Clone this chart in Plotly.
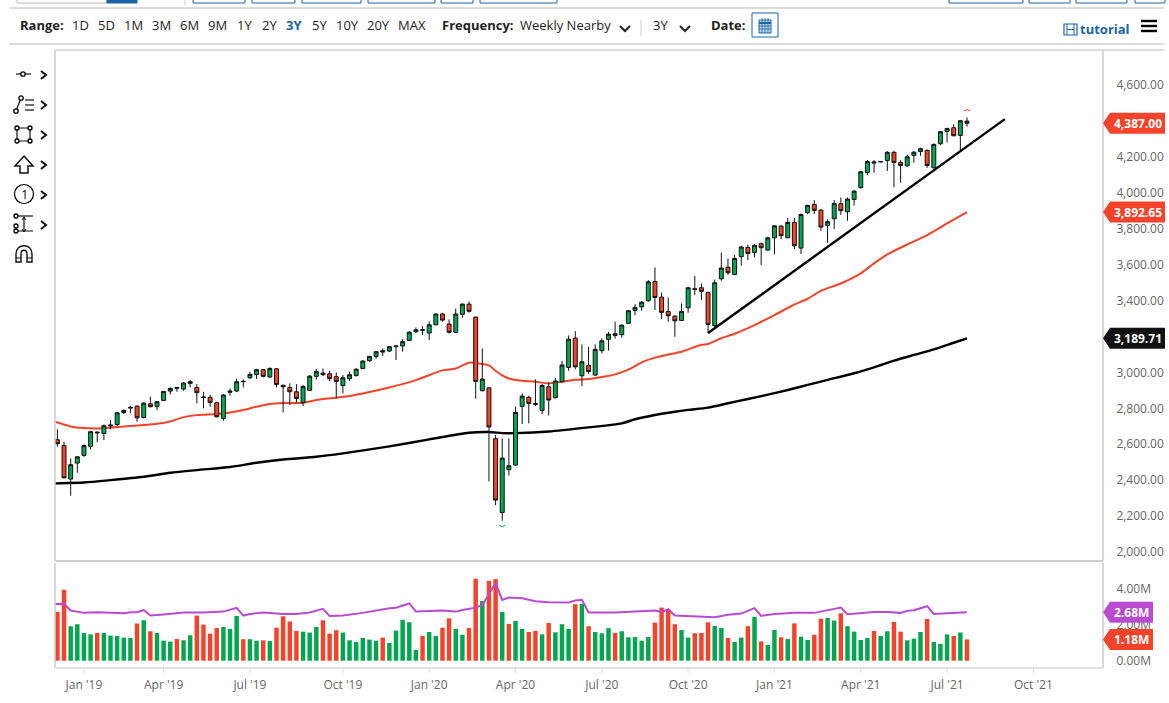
import pandas as pd
import plotly.graph_objects as go

W, H = 1169, 703
GREEN, RED, BLUE, PURPLE = "#00a650", "#f4432a", "#1a64a8", "#b94bd2"
GREY = "#666666"

# ---- weekly OHLC ----
opens = [2625,2593,2406,2495,2538,2588,2668,2660,2701,2710,2777,2801,2812,2749,2825,2811,2844,2896,2911,2907,
         2939,2916,2863,2861,2831,2744,2889,2896,2948,2970,2989,3015,2974,3020,2928,2916,2892,2831,2900,2978,
         2996,2992,2976,2927,2965,2983,3022,3065,3089,3121,3119,3143,3147,3178,3226,3234,3219,3265,3325,3269,
         3223,3323,3380,3308,2898,2914,2631,2220,2458,2484,2811,2861,2827,2788,2920,2859,2948,3028,3191,2981,
         3039,2985,3121,3184,3215,3210,3273,3345,3365,3399,3506,3419,3339,3313,3289,3360,3466,3471,3445,3260,
         3521,3586,3545,3644,3696,3668,3716,3681,3749,3814,3749,3835,3692,3889,3935,3904,3818,3855,3939,3894,
         3963,4028,4113,4165,4171,4180,4225,4169,4150,4208,4230,4236,4139,4273,4342,4362,4319,4399]
highs = [2683,2614,2521,2534,2599,2675,2671,2710,2734,2779,2794,2812,2816,2833,2864,2840,2896,2916,2920,2946,
         2957,2935,2892,2874,2837,2879,2911,2966,2961,3004,3020,3018,3028,3024,2933,2939,2935,2929,2985,3018,
         3022,3009,3000,2985,3004,3022,3067,3091,3119,3133,3148,3152,3184,3228,3250,3258,3284,3328,3332,3295,
         3356,3384,3395,3310,3133,2916,2651,2632,2632,2809,2883,2870,2961,2935,2942,2970,3063,3206,3230,3156,
         3143,3156,3189,3226,3282,3267,3347,3380,3397,3514,3584,3445,3417,3319,3384,3477,3538,3495,3449,3517,
         3666,3634,3653,3705,3711,3714,3723,3755,3820,3820,3859,3859,3885,3933,3959,3907,3852,3959,3974,3974,
         4015,4121,4182,4182,4177,4232,4234,4182,4213,4232,4251,4241,4275,4345,4362,4382,4405,4419]
lows = [2586,2410,2313,2441,2530,2571,2612,2623,2683,2701,2768,2773,2725,2744,2805,2790,2842,2877,2892,2898,
        2916,2827,2799,2809,2749,2731,2870,2890,2916,2963,2963,2972,2970,2916,2777,2818,2831,2812,2896,2961,
        2979,2950,2855,2883,2952,2976,3018,3059,3076,3091,3113,3069,3115,3174,3221,3208,3180,3262,3282,3217,
        3221,3304,3332,2853,2894,2393,2261,2174,2425,2480,2712,2716,2812,2768,2760,2855,2946,3009,3017,2924,
        2992,2981,3106,3121,3189,3193,3269,3319,3343,3393,3347,3298,3282,3198,3287,3332,3430,3402,3221,3250,
        3510,3542,3543,3594,3625,3640,3597,3677,3657,3742,3748,3686,3659,3881,3881,3787,3722,3798,3876,3844,
        3928,4024,4098,4111,4169,4121,4030,4056,4145,4167,4206,4139,4135,4265,4280,4316,4228,4368]
closes = [2603,2413,2486,2530,2593,2670,2664,2703,2707,2775,2788,2805,2747,2829,2809,2837,2894,2911,2915,2941,
          2948,2887,2861,2833,2753,2874,2896,2948,2950,2989,3015,2978,3022,2933,2920,2892,2855,2922,2979,3005,
          2987,2965,2950,2970,2987,3018,3063,3089,3115,3113,3143,3147,3171,3224,3237,3237,3265,3325,3291,3223,
          3325,3380,3340,2950,2963,2696,2289,2523,2480,2777,2868,2827,2822,2927,2846,2952,3041,3185,3031,3059,
          3005,3128,3176,3213,3206,3263,3343,3362,3391,3504,3417,3334,3315,3287,3339,3471,3462,3451,3267,3499,
          3581,3555,3634,3698,3662,3707,3694,3749,3816,3761,3835,3705,3879,3930,3902,3809,3839,3941,3900,3965,
          4009,4117,4174,4171,4174,4225,4169,4152,4200,4226,4245,4152,4269,4340,4358,4317,4401,4387]

# ---- weekly volume, millions, with the colour of each bar ----
volume = [2.70,3.93,1.91,2.02,1.54,1.46,1.54,1.54,1.39,1.37,1.28,1.26,2.06,2.24,1.63,1.54,1.11,1.06,1.20,1.13,
          1.41,2.50,2.00,1.50,1.81,1.87,1.76,2.48,1.19,1.19,1.11,1.13,1.09,1.83,2.46,2.17,1.65,1.61,1.56,1.87,
          2.24,1.50,1.69,1.56,1.13,1.04,1.26,1.17,1.11,1.28,0.98,1.67,2.26,2.13,0.59,1.37,1.59,1.37,1.83,2.35,
          1.76,1.44,1.81,4.54,3.31,4.43,4.52,2.70,2.04,2.20,1.76,1.59,1.65,1.46,2.09,1.57,2.02,1.76,3.13,3.15,
          1.91,1.59,1.52,1.80,1.54,1.63,1.30,1.31,1.11,1.31,2.11,2.94,2.85,2.02,1.70,1.28,1.52,1.54,2.13,1.93,
          1.81,1.26,1.04,1.28,1.91,2.43,1.07,0.87,1.70,1.30,1.20,2.07,1.33,1.15,1.44,2.33,2.37,2.22,2.63,1.91,
          1.61,1.15,1.26,1.65,1.37,1.63,2.15,1.61,1.13,1.22,1.59,2.31,1.04,0.93,1.46,1.37,1.56,1.18]
volume_side = ("RRGGGGRGGGGGRGRGGGRGGRRRRGGGRGGRGRRRRGGGRRRGGGGGGRGGGGGRGGRRGGRRGRRG"
               "RGGRRGRGGGRGRGGGRGGGGGRRRRGGRRRGGRGGRGRGGRGRGGRRGGRGGGGRGGRRGGGRGGGRGR")

# ---- sampled moving averages: (bar number, value) ----
ma50_at = [-1,0,1,2,4,6,8,10,13,15,17,19,21,24,26,28,30,32,34,37,39,42,44,46,50,54,58,60,62,64,65,66,67,68,70,72,74,76,
           78,80,82,84,86,87,88,90,92,94,97,98,100,102,105,108,111,113,115,118,121,123,125,128,131,134,137]
ma50 = [2731,2721,2710,2699,2690,2688,2692,2699,2707,2714,2727,2751,2762,2768,2777,2790,2809,2824,2829,2831,2846,2859,2868,
        2883,2916,2957,3011,3022,3054,3046,3039,3009,2983,2966,2953,2948,2939,2948,2959,2963,2974,2989,3015,3035,3056,
        3082,3099,3115,3154,3158,3190,3215,3263,3319,3378,3410,3454,3495,3551,3607,3657,3712,3764,3829,3892.65]
ma200_at = [-1,0,4,8,13,17,21,26,30,34,39,43,50,56,62,65,67,69,74,80,85,87,90,93,95,98,101,104,107,110,113,116,120,123,126,129,132,135,137]
ma200 = [2381,2382,2387,2400,2419,2441,2456,2473,2497,2515,2530,2549,2588,2627,2664,2668,2662,2662,2671,2694,2716,2739,2763,
         2781,2791,2804,2828,2852,2876,2902,2930,2958,2995,3028,3065,3097,3128,3165,3189.71]
vol_ma_at = [-1,0,1,2,4,6,10,11,12,13,14,16,19,22,25,27,28,29,31,34,36,38,40,41,43,46,50,51,53,54,56,58,60,61,63,64,66,67,68,
             70,72,74,77,78,79,80,84,88,90,91,92,93,96,99,101,103,105,106,108,111,114,118,119,123,125,127,128,129,131,132,134,137]
vol_ma = [3.13,3.13,3.15,2.78,2.65,2.69,2.63,2.69,2.69,2.81,2.50,2.56,2.67,2.67,2.72,2.93,2.50,2.59,2.67,2.59,2.59,2.67,2.87,
          2.48,2.50,2.65,2.91,2.93,3.17,2.72,2.74,2.78,2.72,2.81,2.94,3.09,4.30,3.37,3.50,3.46,3.30,3.24,3.22,3.33,3.37,
          2.67,2.67,2.74,2.78,2.70,2.85,2.50,2.46,2.41,2.54,2.61,2.91,2.48,2.59,2.65,2.65,2.94,2.57,2.70,2.70,2.65,2.76,
          2.80,3.02,2.59,2.63,2.68]

# ---- drawn trendline ----
trend_weeks = [98, 142.7]
trend_values = [3219, 4410]

# ---- tick labels ----
tick_weeks = [4,16,29,43,56,69,82,95,108,121,134,147]
tick_labels = ["Jan '19","Apr '19","Jul '19","Oct '19","Jan '20","Apr '20","Jul '20","Oct '20","Jan '21","Apr '21","Jul '21","Oct '21"]
price_ticks = [2000,2200,2400,2600,2800,3000,3400,3600,3800,4000,4200,4600]
vol_ticks = [0,2,4]
vol_tick_labels = ["0.00M","2.00M","4.00M"]

first = pd.Timestamp("2018-12-07")
def week(n):
    return first + pd.Timedelta(days=7 * n)
dates = [week(i) for i in range(len(closes))]
assert len(opens) == len(highs) == len(lows) == len(closes) == len(volume) == len(volume_side) == 138
assert len(ma50) == len(ma50_at) and len(ma200) == len(ma200_at) and len(vol_ma) == len(vol_ma_at)

PX_DAY = 6.64 / 7
x_range = [first - pd.Timedelta(days=2.4 / PX_DAY), first + pd.Timedelta(days=1045.7 / PX_DAY)]

fig = go.Figure()
fig.add_trace(go.Scatter(x=[week(i) for i in ma200_at], y=ma200, mode="lines", zorder=-1,
                         line=dict(color="#000000", width=2.4, shape="spline", smoothing=0.7), hoverinfo="skip"))
fig.add_trace(go.Scatter(x=[week(i) for i in ma50_at], y=ma50, mode="lines", zorder=-1,
                         line=dict(color=RED, width=2, shape="spline", smoothing=0.7), hoverinfo="skip"))
fig.add_trace(go.Candlestick(x=dates, open=opens, high=highs, low=lows, close=closes, whiskerwidth=0,
                             increasing=dict(line=dict(color="#111111", width=1), fillcolor=GREEN),
                             decreasing=dict(line=dict(color="#111111", width=1), fillcolor=RED),
                             hoverinfo="skip"))
fig.add_trace(go.Scatter(x=[week(w) for w in trend_weeks], y=trend_values, mode="lines",
                         line=dict(color="#000000", width=2.4), hoverinfo="skip"))
fig.add_trace(go.Bar(x=dates, y=volume, xaxis="x2", yaxis="y2", width=4.7 * 86400000,
                     marker=dict(color=[RED if s == "R" else GREEN for s in volume_side], line=dict(width=0)),
                     hoverinfo="skip"))
fig.add_trace(go.Scatter(x=[week(i) for i in vol_ma_at], y=vol_ma, xaxis="x2", yaxis="y2", mode="lines",
                         line=dict(color=PURPLE, width=2), hoverinfo="skip"))

def X(px): return px / W
def Y(px): return 1 - px / H

shapes, annotations = [], []
def line(x0, y0, x1, y1, color="#000000", width=1.5):
    shapes.append(dict(type="line", xref="paper", yref="paper", x0=X(x0), x1=X(x1), y0=Y(y0), y1=Y(y1),
                       line=dict(color=color, width=width), layer="above"))
def rect(x0, y0, x1, y1, color="#000000", width=1.5, fill="rgba(0,0,0,0)"):
    shapes.append(dict(type="rect", xref="paper", yref="paper", x0=X(x0), x1=X(x1), y0=Y(y0), y1=Y(y1),
                       line=dict(color=color, width=width), fillcolor=fill, layer="above"))
def circle(cx, cy, r, color="#000000", width=1.3, fill="#ffffff"):
    shapes.append(dict(type="circle", xref="paper", yref="paper", x0=X(cx - r), x1=X(cx + r), y0=Y(cy - r), y1=Y(cy + r),
                       line=dict(color=color, width=width), fillcolor=fill, layer="above"))
def poly(points, color="#000000", width=1.5, fill="rgba(0,0,0,0)", close=False):
    d = "M " + " L ".join(f"{X(a):.5f} {Y(b):.5f}" for a, b in points) + (" Z" if close else "")
    shapes.append(dict(type="path", xref="paper", yref="paper", path=d,
                       line=dict(color=color, width=width), fillcolor=fill, layer="above"))
def text(px, py, s, size=13, color="#222222", bold=False, anchor="left"):
    annotations.append(dict(xref="paper", yref="paper", x=X(px), y=Y(py), text=f"<b>{s}</b>" if bold else s,
                            showarrow=False, xanchor=anchor, yanchor="middle", xshift=0,
                            font=dict(family="Open Sans", size=size, color=color), borderpad=0, borderwidth=0))

# panel frames and axis ticks
line(55, 50, 55, 561, "#cccccc", 1.5)
line(1103, 50, 1103, 561, "#cccccc", 1.5)
line(55, 561, 1103, 561, "#cccccc", 2)
line(55, 563, 55, 668, "#cccccc", 1.5)
line(1103, 563, 1103, 668, "#cccccc", 1.5)
line(55, 668, 1103, 668, "#e0e0e0", 2)
for w in tick_weeks:
    shapes.append(dict(type="line", xref="x2", yref="paper", x0=week(w), x1=week(w), y0=Y(668), y1=Y(673),
                       line=dict(color="#dddddd", width=1), layer="above"))

# top clipped buttons and rules
rect(17, -8, 107, 3, "#bbbbbb", 1)
rect(107, -8, 137, 3, BLUE, 1, BLUE)
for a, b in [(193,245),(252,295),(302,361),(368,435),(441,473),(480,557),(949,1023),(1029,1070),(1076,1127),(1135,1165)]:
    shapes.append(dict(type="rect", xref="paper", yref="paper", x0=X(a), x1=X(b), y0=Y(-8), y1=Y(3),
                       line=dict(color=BLUE, width=1), layer="above"))
line(185, 0, 185, 5, "#cccccc", 1)
line(9, 8, 1164, 8, "#d0d0d0", 1.5)
line(9, 44, 1164, 44, "#d0d0d0", 1.5)
line(55, 50, 1164, 50, "#d0d0d0", 1.5)

# toolbar
text(20, 25, "Range:", bold=True)
for cx, s in zip([80,106,133,161,189,217,244,269,294,319,347,378,412],
                 ["1D","5D","1M","3M","6M","9M","1Y","2Y","3Y","5Y","10Y","20Y","MAX"]):
    text(cx, 25, f"<b>{s}</b>" if s == "3Y" else s, color=BLUE if s == "3Y" else "#222222", anchor="center")
text(442, 25, "Frequency:", bold=True)
text(520, 25, "Weekly Nearby")
poly([(620,26),(625,31),(630,26)], "#222222", 2)
line(641, 20, 641, 36, "#cccccc", 1)
text(653, 25, "3Y")
poly([(680,26),(685,31),(690,26)], "#222222", 2)
text(711, 25, "Date:", bold=True)
rect(752, 13, 778, 37, BLUE, 1)
rect(759, 20, 771, 33, BLUE, 1, "rgba(26,100,168,0.25)")
line(759, 23, 771, 23, BLUE, 2)
for gx in (762, 765, 768):
    line(gx, 18, gx, 33, BLUE, 0.8)
for gy in (26, 29):
    line(759, gy, 771, gy, BLUE, 0.8)
rect(1064, 24, 1077, 35, BLUE, 1.2)
line(1067, 24, 1067, 35, BLUE, 1)
line(1074, 24, 1074, 35, BLUE, 1)
line(1067, 29.5, 1074, 29.5, BLUE, 1)
text(1080, 29, "tutorial", size=13, color=BLUE, bold=True)
for gy in (21, 26, 31):
    line(1141, gy, 1157, gy, "#000000", 2.4)

# drawing tools
for cy in (75, 105, 135, 165, 195, 225):
    poly([(41, cy - 4), (46, cy), (41, cy + 4)], "#111111", 2)
line(16, 74, 31, 74, "#111111", 1.2)
circle(23, 74, 2.2)
line(16, 111, 21, 98, "#111111", 1.2)
circle(16, 111, 2.2)
circle(21, 98, 2.2)
for gy in (100, 105, 110):
    line(25, gy, 34, gy, "#333333", 1.4)
rect(17, 128, 30, 141, "#111111", 1.2)
for a, b in [(17,128),(30,128),(17,141),(30,141)]:
    circle(a, b, 2)
poly([(24,156),(33,166),(28,166),(28,173),(20,173),(20,166),(15,166)], "#111111", 1.5, close=True)
circle(24, 194, 9.5, width=1.2)
text(24, 194, "1", size=13, color="#111111", anchor="center")
line(15, 216, 33, 216, "#111111", 1.2)
line(15, 231, 33, 231, "#555555", 1.4)
line(24, 217, 24, 232, "#111111", 1.2)
poly([(22,220),(24,217),(26,220)], "#111111", 1)
poly([(22,229),(24,232),(26,229)], "#111111", 1)
for a, b in [(16,216),(16,226),(16,231)]:
    circle(a, b, 2)
shapes.append(dict(type="path", xref="paper", yref="paper", layer="above", line=dict(color="#111111", width=1.4),
                   path=f"M {X(16)} {Y(262)} L {X(16)} {Y(254)} C {X(16)} {Y(243)} {X(32)} {Y(243)} {X(32)} {Y(254)} L {X(32)} {Y(262)} "
                        f"L {X(27)} {Y(262)} L {X(27)} {Y(254)} C {X(27)} {Y(249)} {X(21)} {Y(249)} {X(21)} {Y(254)} L {X(21)} {Y(262)} Z"))
line(16, 258, 21, 258, "#111111", 1)
line(27, 258, 32, 258, "#111111", 1)

# price tags on the axes, anchored to the data values
def tag(value, yref, s, color, right):
    shapes.append(dict(type="path", xref="paper", yref=yref, xsizemode="pixel", ysizemode="pixel",
                       xanchor=X(1103), yanchor=value, layer="above", fillcolor=color, line=dict(width=0),
                       path=f"M 0 0 L 7 10.5 L {right} 10.5 L {right} -10.5 L 7 -10.5 Z"))
    annotations.append(dict(xref="paper", yref=yref, x=X(1103 + (right + 7) / 2), y=value, text=f"<b>{s}</b>", showarrow=False,
                            xanchor="center", yanchor="middle", font=dict(family="Open Sans", size=12, color="#ffffff")))
tag(closes[-1], "y", f"{closes[-1]:,.2f}", RED, 62)
tag(ma50[-1], "y", f"{ma50[-1]:,.2f}", RED, 62)
tag(ma200[-1], "y", f"{ma200[-1]:,.2f}", "#111111", 62)
tag(vol_ma[-1], "y2", f"{vol_ma[-1]:.2f}M", PURPLE, 50)
tag(volume[-1], "y2", f"{volume[-1]:.2f}M", RED, 50)

# small high / low marks at the extremes
PX_PRICE = 0.17962
for when, value, bend, color in [(dates[137], max(highs) + 6.5 / PX_PRICE, 3, RED), (dates[67], min(lows) - 4.5 / PX_PRICE, -3, GREEN)]:
    shapes.append(dict(type="path", xref="x", yref="y", xsizemode="pixel", ysizemode="pixel", xanchor=when, yanchor=value,
                       layer="above", line=dict(color=color, width=1), path=f"M -3 0 Q 0 {bend} 3 0"))

axis_font = dict(family="Open Sans", size=12, color=GREY)
fig.update_layout(
    width=W, height=H, margin=dict(l=0, r=0, t=0, b=0), paper_bgcolor="#ffffff", plot_bgcolor="#ffffff",
    showlegend=False, hovermode=False, boxgap=0.15, bargap=0.3, shapes=shapes, annotations=annotations,
    xaxis=dict(domain=[X(55), X(1103)], anchor="y", range=x_range, type="date", showgrid=False, zeroline=False,
               showticklabels=False, ticks="", rangeslider=dict(visible=False)),
    yaxis=dict(domain=[Y(561), Y(50)], anchor="x", side="right", range=[2000 - 9 / PX_PRICE, 2000 + 502 / PX_PRICE],
               tickmode="array", tickvals=price_ticks, tickformat=",.2f", ticks="outside", ticklen=10, tickcolor="#ffffff",
               tickfont=axis_font, showgrid=False, zeroline=False),
    xaxis2=dict(domain=[X(55), X(1103)], anchor="y2", matches="x", type="date", showgrid=False, zeroline=False,
                tickmode="array", tickvals=[week(w) for w in tick_weeks], ticktext=tick_labels, ticks="outside", ticklen=6,
                tickcolor="#ffffff", tickfont=axis_font),
    yaxis2=dict(domain=[Y(668), Y(563)], anchor="x2", side="right", range=[-7.3 / 18.05, 97.7 / 18.05],
                tickmode="array", tickvals=vol_ticks, ticktext=vol_tick_labels, ticks="outside", ticklen=10, tickcolor="#ffffff",
                tickfont=axis_font, showgrid=False, zeroline=False),
)

fig.write_html("out.html", post_script="document.body.style.margin='0';document.documentElement.style.overflow='hidden';",
               config=dict(displayModeBar=False))
